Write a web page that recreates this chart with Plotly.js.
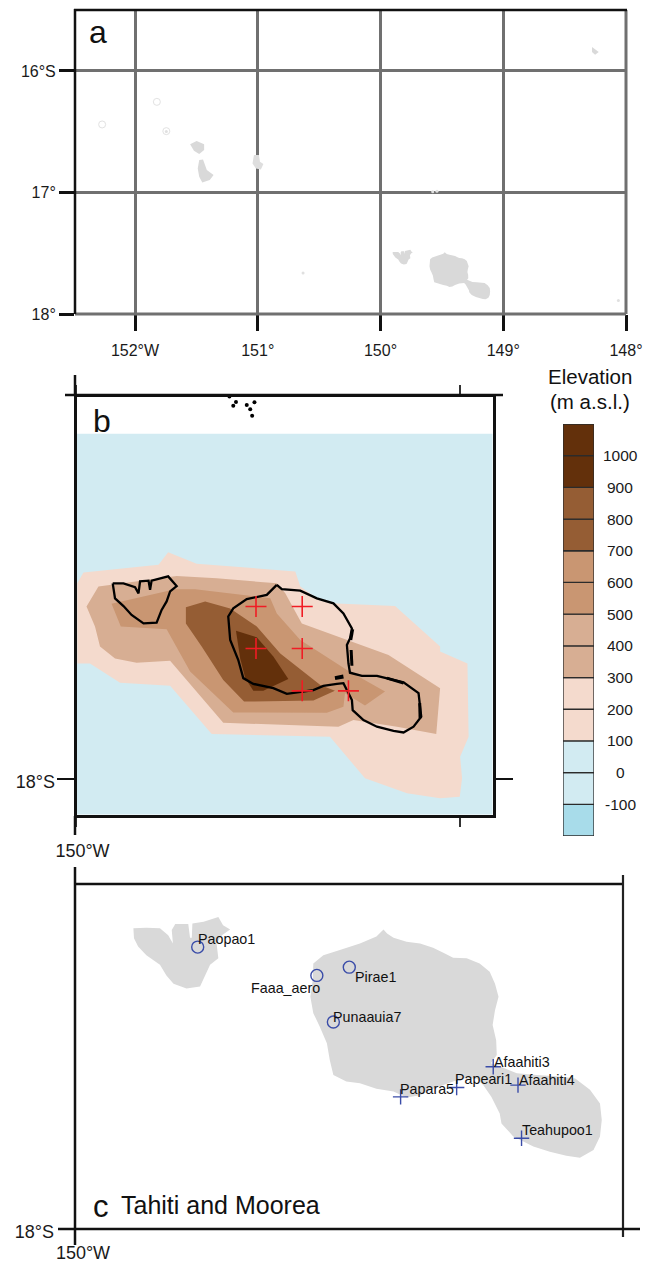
<!DOCTYPE html>
<html>
<head>
<meta charset="utf-8">
<script src="https://cdn.plot.ly/plotly-3.0.1.min.js"></script>
<style>html,body{margin:0;padding:0;background:#fff}</style>
</head>
<body>
<div id="chart" style="width:652px;height:1263px"></div>
<script>
// ---- Coastlines (degrees) ----
const tahitiLon = [-149.477,-149.471,-149.460,-149.438,-149.415,-149.393,-149.373,-149.359,-149.336,-149.314,-149.297,-149.288,-149.282,-149.288,-149.292,-149.286,-149.285,-149.295,-149.280,-149.251,-149.217,-149.184,-149.152,-149.127,-149.110,-149.107,-149.110,-149.121,-149.144,-149.167,-149.195,-149.223,-149.257,-149.277,-149.280,-149.294,-149.308,-149.319,-149.342,-149.359,-149.393,-149.415,-149.438,-149.460,-149.489,-149.517,-149.540,-149.562,-149.568,-149.573,-149.585,-149.596,-149.601,-149.597,-149.596,-149.579,-149.551,-149.517,-149.489,-149.477];
const tahitiLat = [-17.492,-17.499,-17.506,-17.513,-17.516,-17.523,-17.533,-17.540,-17.541,-17.550,-17.564,-17.584,-17.606,-17.629,-17.654,-17.680,-17.705,-17.719,-17.724,-17.736,-17.739,-17.741,-17.745,-17.764,-17.787,-17.815,-17.843,-17.866,-17.879,-17.876,-17.869,-17.860,-17.843,-17.821,-17.804,-17.776,-17.756,-17.745,-17.745,-17.750,-17.762,-17.773,-17.777,-17.767,-17.762,-17.753,-17.750,-17.739,-17.714,-17.685,-17.657,-17.634,-17.606,-17.578,-17.550,-17.536,-17.527,-17.516,-17.504,-17.492];
const mooreaLon = [-149.901,-149.879,-149.856,-149.842,-149.834,-149.836,-149.830,-149.808,-149.805,-149.802,-149.801,-149.782,-149.757,-149.749,-149.737,-149.751,-149.760,-149.757,-149.771,-149.780,-149.788,-149.811,-149.833,-149.845,-149.856,-149.879,-149.893,-149.900,-149.901];
const mooreaLat = [-17.490,-17.489,-17.490,-17.502,-17.516,-17.493,-17.483,-17.483,-17.506,-17.506,-17.482,-17.479,-17.471,-17.485,-17.492,-17.502,-17.516,-17.541,-17.552,-17.572,-17.589,-17.592,-17.584,-17.570,-17.552,-17.536,-17.521,-17.507,-17.490];
// ---- Coast as traced on the model grid, panel b ----
const tahitiCoastLon = [-149.476,-149.463,-149.415,-149.372,-149.329,-149.303,-149.281,-149.286,-149.294,-149.290,-149.286,-149.255,-149.216,-149.147,-149.108,-149.101,-149.121,-149.147,-149.173,-149.216,-149.251,-149.279,-149.281,-149.303,-149.320,-149.355,-149.381,-149.450,-149.485,-149.537,-149.563,-149.576,-149.597,-149.602,-149.589,-149.554,-149.502,-149.476];
const tahitiCoastLat = [-17.496,-17.507,-17.511,-17.531,-17.544,-17.570,-17.609,-17.635,-17.652,-17.700,-17.724,-17.732,-17.732,-17.749,-17.777,-17.838,-17.864,-17.879,-17.875,-17.864,-17.847,-17.821,-17.795,-17.751,-17.753,-17.758,-17.769,-17.779,-17.764,-17.753,-17.738,-17.691,-17.639,-17.578,-17.557,-17.533,-17.522,-17.496];
const mooreaCoastLon = [-149.902,-149.874,-149.844,-149.835,-149.831,-149.809,-149.805,-149.801,-149.758,-149.736,-149.753,-149.762,-149.775,-149.788,-149.822,-149.853,-149.874,-149.896,-149.900,-149.902];
const mooreaCoastLat = [-17.492,-17.492,-17.502,-17.518,-17.487,-17.485,-17.509,-17.485,-17.474,-17.499,-17.513,-17.539,-17.561,-17.594,-17.596,-17.574,-17.551,-17.531,-17.505,-17.492];
const reef1Lon = [-149.279,-149.284]; const reef1Lat = [-17.611,-17.639];
const reef2Lon = [-149.283,-149.281]; const reef2Lat = [-17.665,-17.706];
const reef3Lon = [-149.190,-149.147]; const reef3Lat = [-17.738,-17.751];
const reef4Lon = [-149.105,-149.104]; const reef4Lat = [-17.803,-17.842];
const reef5Lon = [-149.325,-149.303]; const reef5Lat = [-17.738,-17.734];
// ---- Other islands, panel a ----
const tahaaLon = [-151.551,-151.498,-151.437,-151.437,-151.477,-151.520];
const tahaaLat = [-16.602,-16.577,-16.602,-16.651,-16.684,-16.657];
const raiateaLon = [-151.477,-151.446,-151.415,-151.360,-151.391,-151.452,-151.477,-151.489];
const raiateaLat = [-16.733,-16.728,-16.815,-16.856,-16.897,-16.917,-16.870,-16.802];
const huahineLon = [-151.031,-150.991,-150.982,-150.954,-150.975,-151.015,-151.043];
const huahineLat = [-16.692,-16.692,-16.747,-16.766,-16.810,-16.802,-16.761];
const anaaLon = [-148.277,-148.258,-148.222,-148.252,-148.277];
const anaaLat = [-15.803,-15.817,-15.844,-15.866,-15.844];
const atollLon = [-151.822,-151.745,-152.268];
const atollLat = [-16.254,-16.495,-16.440];
const isletLon = [-150.631,-148.062,-149.575,-149.540,-151.745];
const isletLat = [-17.663,-17.888,-16.993,-16.990,-16.497];
// ---- Panel b: Tetiaroa specks and topography bands ----
const tetiaroaLon = [-149.599,-149.582,-149.589,-149.554,-149.545,-149.534,-149.540];
const tetiaroaLat = [-17.007,-17.021,-17.031,-17.029,-17.040,-17.022,-17.057];
const seaLon = [-150,-148.912,-148.912,-150];
const seaLat = [-17.104,-17.104,-18.096,-18.096];
const band100Lon = [-149.994,-149.961,-149.883,-149.753,-149.645,-149.338,-149.247,-149.138,-149.052,-149.001,-148.995,-149.000,-148.978,-148.981,-149.052,-149.052,-149.169,-149.320,-149.363,-149.415,-149.428,-149.684,-149.758,-149.783,-149.978,-149.994];
const band100Lat = [-17.700,-17.700,-17.750,-17.758,-17.883,-17.890,-17.998,-18.037,-18.050,-18.046,-17.998,-17.942,-17.890,-17.700,-17.669,-17.656,-17.551,-17.544,-17.537,-17.500,-17.461,-17.441,-17.411,-17.444,-17.464,-17.492];
const band300Lon = [-149.970,-149.939,-149.736,-149.632,-149.476,-149.454,-149.411,-149.186,-149.052,-149.062,-149.164,-149.277,-149.316,-149.615,-149.753,-149.840,-149.896,-149.935,-149.948];
const band300Lat = [-17.552,-17.500,-17.473,-17.479,-17.492,-17.518,-17.596,-17.678,-17.764,-17.883,-17.864,-17.847,-17.864,-17.854,-17.693,-17.698,-17.687,-17.656,-17.604];
const band500Lon = [-149.905,-149.740,-149.688,-149.493,-149.476,-149.415,-149.294,-149.195,-149.247,-149.299,-149.303,-149.346,-149.589,-149.701,-149.762,-149.881];
const band500Lat = [-17.545,-17.507,-17.507,-17.531,-17.570,-17.639,-17.717,-17.773,-17.809,-17.777,-17.812,-17.828,-17.827,-17.721,-17.611,-17.604];
const band700Lon = [-149.712,-149.662,-149.597,-149.528,-149.467,-149.363,-149.325,-149.381,-149.561,-149.615,-149.671,-149.712];
const band700Lat = [-17.554,-17.539,-17.557,-17.604,-17.674,-17.756,-17.771,-17.796,-17.799,-17.743,-17.656,-17.596];
const band900Lon = [-149.582,-149.528,-149.485,-149.446,-149.511,-149.537,-149.558,-149.571];
const band900Lat = [-17.615,-17.632,-17.682,-17.740,-17.771,-17.771,-17.738,-17.687];
const gridLon = [-149.53,-149.41,-149.53,-149.41,-149.41,-149.29];
const gridLat = [-17.552,-17.552,-17.661,-17.661,-17.771,-17.771];
// ---- Colour scale ----
const scaleBase = [-200,-100,0,100,200,300,400,500,600,700,800,900,1000];
const scaleStep = [100,100,100,100,100,100,100,100,100,100,100,100,100];
const scaleColors = ['#a8dcea','#d2ebf2','#d2ebf2','#f4dacd','#f4dacd','#d7ae93','#d7ae93','#c99672','#c99672','#955d34','#955d34','#63300b','#63300b'];
const scaleLabels = [-100,0,100,200,300,400,500,600,700,800,900,1000];
// ---- Stations, panel c ----
const circleNames = ['Paopao1','Faaa_aero','Pirae1','Punaauia7'];
const circleLon = [-149.792,-149.590,-149.535,-149.562];
const circleLat = [-17.522,-17.570,-17.556,-17.649];
const circleDx = [-1,4,4.7,-1];
const circleDy = [8,-12.5,-10,5];
const plusNames = ['Afaahiti3','Papeari1','Afaahiti4','Papara5','Teahupoo1'];
const plusLon = [-149.291,-149.353,-149.249,-149.448,-149.243];
const plusLat = [-17.725,-17.760,-17.756,-17.776,-17.846];
const plusDx = [0,-2.7,-0.3,-1.7,-0.7];
const plusDy = [4.7,8.7,5,8,8];
// ---- Tick labels ----
const aLonTicks = [-152,-151,-150,-149,-148];
const aLonText = ['152°W','151°','150°','149°','148°'];
const aLatTicks = [-16,-17,-18];
const aLatText = ['16°S','17°','18°'];

const W = 652, H = 1263, FONT = 'Liberation Sans, Arial, sans-serif';
const X = p => p / W, Y = p => 1 - p / H;
const dom = (a, b) => [a / W, b / W];
const vdom = (top, bot) => [1 - bot / H, 1 - top / H];

const LAND = '#d9d9d9';
function poly(lon, lat, color, xa, ya) {
  return {type:'scatter', mode:'lines', x:lon.concat(lon[0]), y:lat.concat(lat[0]), fill:'toself',
    fillcolor:color, line:{width:0,color:color}, xaxis:xa, yaxis:ya, hoverinfo:'skip', showlegend:false};
}
function outline(lon, lat, w) {
  return {type:'scatter', mode:'lines', x:lon, y:lat, line:{color:'#000',width:w||2.3}, xaxis:'x2', yaxis:'y2', hoverinfo:'skip', showlegend:false};
}
const traces = [
  // panel a
  poly(tahitiLon, tahitiLat, LAND, 'x', 'y'),
  poly(mooreaLon, mooreaLat, LAND, 'x', 'y'),
  poly(tahaaLon, tahaaLat, LAND, 'x', 'y'),
  poly(raiateaLon, raiateaLat, LAND, 'x', 'y'),
  poly(huahineLon, huahineLat, '#dedede', 'x', 'y'),
  poly(anaaLon, anaaLat, LAND, 'x', 'y'),
  {type:'scatter', mode:'markers', x:atollLon, y:atollLat, marker:{symbol:'circle-open',size:7,color:'#e2e2e2',line:{width:1,color:'#e2e2e2'}}, xaxis:'x', yaxis:'y', hoverinfo:'skip', showlegend:false},
  {type:'scatter', mode:'markers', x:isletLon, y:isletLat, marker:{symbol:'circle',size:3,color:'#e0e0e0'}, xaxis:'x', yaxis:'y', hoverinfo:'skip', showlegend:false},
  // panel b
  poly(seaLon, seaLat, '#d2ebf2', 'x2', 'y2'),
  poly(band100Lon, band100Lat, '#f4dacd', 'x2', 'y2'),
  poly(band300Lon, band300Lat, '#d7ae93', 'x2', 'y2'),
  poly(band500Lon, band500Lat, '#c99672', 'x2', 'y2'),
  poly(band700Lon, band700Lat, '#955d34', 'x2', 'y2'),
  poly(band900Lon, band900Lat, '#63300b', 'x2', 'y2'),
  outline(mooreaCoastLon, mooreaCoastLat),
  outline(tahitiCoastLon, tahitiCoastLat),
  outline(reef1Lon, reef1Lat, 3),
  outline(reef2Lon, reef2Lat, 3),
  outline(reef3Lon, reef3Lat, 3),
  outline(reef4Lon, reef4Lat, 3),
  outline(reef5Lon, reef5Lat, 4),
  {type:'scatter', mode:'markers', x:tetiaroaLon, y:tetiaroaLat, marker:{symbol:'circle',size:4,color:'#000'}, xaxis:'x2', yaxis:'y2', hoverinfo:'skip', showlegend:false},
  {type:'scatter', mode:'markers', x:gridLon, y:gridLat, marker:{symbol:'cross-thin',size:15,line:{color:'#f01c24',width:1.6}}, xaxis:'x2', yaxis:'y2', hoverinfo:'skip', showlegend:false},
  // panel c
  poly(tahitiLon, tahitiLat, LAND, 'x3', 'y3'),
  poly(mooreaLon, mooreaLat, LAND, 'x3', 'y3'),
  {type:'scatter', mode:'markers', x:circleLon, y:circleLat, marker:{symbol:'circle-open',size:12,color:'#3a4ca8',line:{color:'#3a4ca8',width:1.4}}, xaxis:'x3', yaxis:'y3', hoverinfo:'skip', showlegend:false},
  {type:'scatter', mode:'markers', x:plusLon, y:plusLat, marker:{symbol:'cross-thin',size:11,line:{color:'#3a4ca8',width:1.4}}, xaxis:'x3', yaxis:'y3', hoverinfo:'skip', showlegend:false},
  // colour scale
  {type:'bar', x:scaleBase.map(()=>0), y:scaleStep, base:scaleBase, width:1, marker:{color:scaleColors,line:{color:'#2b2b2b',width:1.3}}, xaxis:'x4', yaxis:'y4', hoverinfo:'skip', showlegend:false}
];

const tick = {family:FONT, size:16, color:'#1a1a1a'};
const tickBig = {family:FONT, size:18, color:'#1a1a1a'};
const hidden = {showgrid:false, zeroline:false, showline:false, ticks:''};
const layout = {
  width:W, height:H, margin:{l:0,r:0,t:0,b:0}, paper_bgcolor:'#fff', plot_bgcolor:'rgba(0,0,0,0)',
  showlegend:false, barmode:'overlay', font:{family:FONT},
  xaxis:{domain:dom(75,626), range:[-152.489,-148], anchor:'y', tickmode:'array', tickvals:aLonTicks, ticktext:aLonText, tickfont:tick, ticks:'outside', ticklen:16, tickwidth:3, tickcolor:'#111', ticklabelstandoff:6, showgrid:true, gridcolor:'#707070', gridwidth:3, zeroline:false, showline:false},
  yaxis:{domain:vdom(10,314), range:[-18,-15.498], anchor:'x', tickmode:'array', tickvals:aLatTicks, ticktext:aLatText, tickfont:tick, ticks:'outside', ticklen:15, tickwidth:3, tickcolor:'#111', showgrid:true, gridcolor:'#707070', gridwidth:3, zeroline:false, showline:false},
  xaxis2:{domain:dom(76.5,492.5), range:[-149.996,-148.916], anchor:'y2', tickmode:'array', tickvals:[-149.996,-149], ticktext:['150°W',''], tickfont:tickBig, ticks:'outside', ticklen:9, tickwidth:1.6, tickcolor:'#333', ticklabelstandoff:9, ticklabelshift:6, showgrid:false, zeroline:false, showline:true, linecolor:'#111', linewidth:3, mirror:'ticks'},
  yaxis2:{domain:vdom(396.5,814.5), range:[-18.092,-17.007], anchor:'x2', tickmode:'array', tickvals:[-18], ticktext:['18°S'], tickfont:tickBig, ticks:'outside', ticklen:17, tickwidth:2.5, tickcolor:'#111', ticklabelstandoff:-2, ticklabelshift:3, showgrid:false, zeroline:false, showline:true, linecolor:'#111', linewidth:3, mirror:'ticks'},
  xaxis3:{domain:dom(75,623), range:[-150,-149.071], anchor:'y3', tickmode:'array', tickvals:[-150], ticktext:['150°W'], tickfont:tickBig, ticklabelstandoff:11, ticklabelshift:8, ...hidden},
  yaxis3:{domain:vdom(884,1229), range:[-18,-17.415], anchor:'x3', tickmode:'array', tickvals:[-18], ticktext:['18°S'], tickfont:tickBig, ticklabelstandoff:20, ticklabelshift:3, ...hidden},
  xaxis4:{domain:dom(563,594), range:[-0.5,0.5], anchor:'y4', showticklabels:false, ...hidden},
  yaxis4:{domain:vdom(424,836), range:[-200,1100], anchor:'x4', showticklabels:false, ...hidden},
  shapes:[
    // panel a frame
    {type:'line',xref:'paper',yref:'paper',x0:X(75),x1:X(626),y0:Y(314),y1:Y(314),line:{color:'#707070',width:3},layer:'above'},
    {type:'line',xref:'paper',yref:'paper',x0:X(626),x1:X(626),y0:Y(10),y1:Y(314),line:{color:'#707070',width:3},layer:'above'},
    {type:'line',xref:'paper',yref:'paper',x0:X(75),x1:X(75),y0:Y(9),y1:Y(314),line:{color:'#111',width:2.5},layer:'above'},
    {type:'line',xref:'paper',yref:'paper',x0:X(74),x1:X(627),y0:Y(10),y1:Y(10),line:{color:'#111',width:2.5},layer:'above'},
    // panel b extensions
    {type:'line',xref:'paper',yref:'paper',x0:X(65),x1:X(503),y0:Y(395),y1:Y(395),line:{color:'#111',width:2.5},layer:'above'},
    {type:'line',xref:'paper',yref:'paper',x0:X(75),x1:X(75),y0:Y(375),y1:Y(395),line:{color:'#111',width:2.5},layer:'above'},
    {type:'line',xref:'paper',yref:'paper',x0:X(75),x1:X(75),y0:Y(816),y1:Y(835),line:{color:'#111',width:2.5},layer:'above'},
    // panel c frame
    {type:'line',xref:'paper',yref:'paper',x0:X(75),x1:X(75),y0:Y(867),y1:Y(1245),line:{color:'#111',width:2.5},layer:'above'},
    {type:'line',xref:'paper',yref:'paper',x0:X(75),x1:X(623),y0:Y(884),y1:Y(884),line:{color:'#111',width:2.5},layer:'above'},
    {type:'line',xref:'paper',yref:'paper',x0:X(623),x1:X(623),y0:Y(875),y1:Y(1237),line:{color:'#222',width:2.2},layer:'above'},
    {type:'line',xref:'paper',yref:'paper',x0:X(58),x1:X(640),y0:Y(1229),y1:Y(1229),line:{color:'#111',width:2.5},layer:'above'}
  ],
  annotations:[]
};
const ann = layout.annotations;
function note(text, px, py, size, anchor) {
  ann.push({xref:'paper', yref:'paper', x:X(px), y:Y(py), text:text, showarrow:false, xanchor:anchor||'left', yanchor:'middle', borderpad:0, font:{family:FONT, size:size, color:'#111'}});
}
note('a', 88, 32, 32);
note('b', 92, 421, 32);
note('c', 92, 1206, 31);
note('Tahiti and Moorea', 120, 1205, 25);
note('Elevation', 590, 376, 20.5, 'center');
note('(m a.s.l.)', 590, 402, 20.5, 'center');
scaleLabels.forEach(v => ann.push({xref:'paper', yref:'y4', x:X(620), y:v, text:String(v), showarrow:false, xanchor:'center', yanchor:'middle', font:{family:FONT, size:15.5, color:'#1a1a1a'}}));
function station(name, lon, lat, dx, dy, anchor) {
  ann.push({xref:'x3', yref:'y3', x:lon, y:lat, text:name, showarrow:false, xanchor:anchor, yanchor:'middle', xshift:dx, yshift:dy, borderpad:0, font:{family:FONT, size:14.3, color:'#111'}});
}
circleNames.forEach((n,i) => station(n, circleLon[i], circleLat[i], circleDx[i], circleDy[i], n==='Faaa_aero'?'right':'left'));
plusNames.forEach((n,i) => station(n, plusLon[i], plusLat[i], plusDx[i], plusDy[i], 'left'));

Plotly.newPlot('chart', traces, layout, {displayModeBar:false, staticPlot:true});
</script>
</body>
</html>
